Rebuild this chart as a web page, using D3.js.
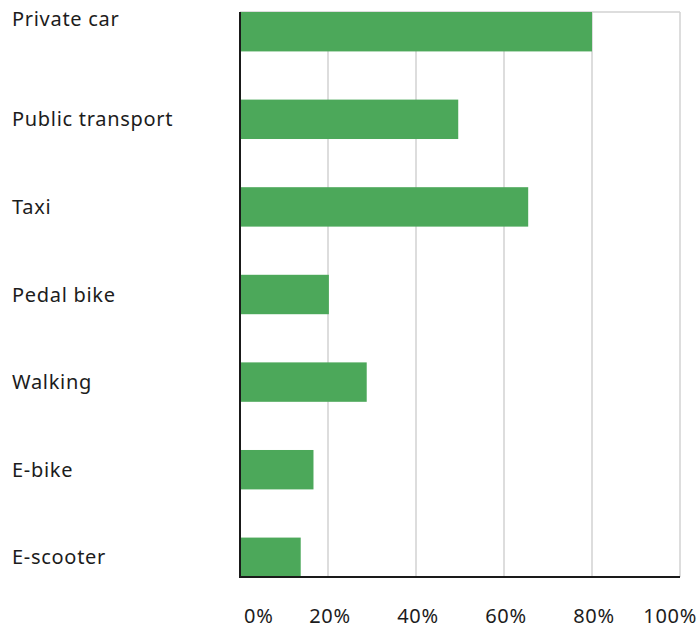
<!DOCTYPE html>
<html>
<head>
<meta charset="utf-8">
<script src="https://cdn.jsdelivr.net/npm/d3@7"></script>
<style>
  html, body { margin: 0; padding: 0; background: #fff; }
  svg text { font-family: "Noto Sans", "Open Sans", sans-serif; fill: #1c1c1c; letter-spacing: 0.7px; }
</style>
</head>
<body>
<svg id="chart" width="700" height="630"></svg>
<script>
const categories = ["Private car", "Public transport", "Taxi", "Pedal bike", "Walking", "E-bike", "E-scooter"];
const values = [80, 49.6, 65.5, 20.2, 28.8, 16.7, 13.8];
const tickValues = [0, 20, 40, 60, 80, 100];
const tickLabels = ["0%", "20%", "40%", "60%", "80%", "100%"];

const svg = d3.select("#chart");
const mLeft = 240, mRight = 680, mTop = 12, mBottom = 577;

const x = d3.scaleLinear().domain([0, 100]).range([mLeft, mRight]);
const y = d3.scaleBand().domain(categories).range([mTop, mBottom]).paddingInner(0.55).paddingOuter(0);

// gridlines
svg.append("g").selectAll("line").data(tickValues.slice(1)).join("line")
  .attr("x1", d => x(d)).attr("x2", d => x(d))
  .attr("y1", mTop).attr("y2", mBottom)
  .attr("stroke", "#d2d2d2").attr("stroke-width", 1.5);
// top border
svg.append("line").attr("x1", mLeft).attr("x2", mRight).attr("y1", mTop).attr("y2", mTop)
  .attr("stroke", "#d2d2d2").attr("stroke-width", 1.5);

// bars
svg.append("g").selectAll("rect").data(categories).join("rect")
  .attr("x", mLeft)
  .attr("y", d => y(d))
  .attr("width", (d, i) => x(values[i]) - mLeft)
  .attr("height", y.bandwidth())
  .attr("fill", "#4ca85a");

// axes lines
svg.append("line").attr("x1", mLeft).attr("x2", mLeft).attr("y1", mTop).attr("y2", mBottom + 1)
  .attr("stroke", "#1a1a1a").attr("stroke-width", 2);
svg.append("line").attr("x1", mLeft - 1).attr("x2", mRight).attr("y1", mBottom).attr("y2", mBottom)
  .attr("stroke", "#1a1a1a").attr("stroke-width", 2);

// category labels
svg.append("g").selectAll("text").data(categories).join("text")
  .attr("x", 12)
  .attr("y", (d, i) => i === 0 ? y(d) + 14 : y(d) + y.bandwidth() / 2 + 7)
  .attr("font-size", 20)
  .text(d => d);

// tick labels
svg.append("g").selectAll("text").data(tickValues).join("text")
  .attr("x", (d, i) => i === 0 ? x(d) + 4 : (i === tickValues.length - 1 ? 697 : x(d) + 2))
  .attr("y", 623)
  .attr("text-anchor", (d, i) => i === 0 ? "start" : (i === tickValues.length - 1 ? "end" : "middle"))
  .attr("font-size", 20)
  .text((d, i) => tickLabels[i]);
</script>
</body>
</html>
